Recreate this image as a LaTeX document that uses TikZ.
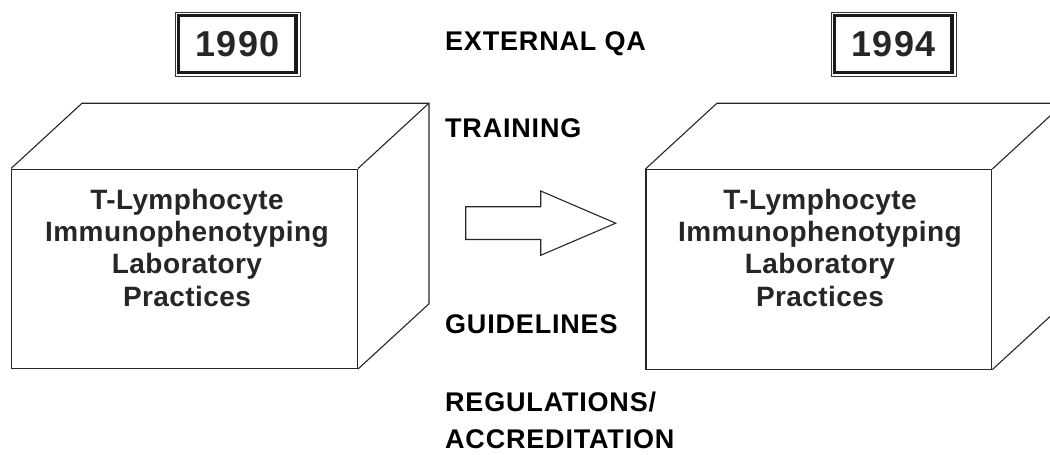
\documentclass[tikz,border=0pt]{standalone}
\usepackage{fontspec}
\setmainfont{Liberation Sans}
\newfontfamily\cubefont[LetterSpace=1.5]{Liberation Sans}
\newfontfamily\labfont[LetterSpace=3]{Liberation Sans}
\newfontfamily\yearfont[LetterSpace=4]{Liberation Sans}
\begin{document}
\begin{tikzpicture}[x=1pt,y=-1pt,line join=miter,
  edge/.style={draw=black!85,line width=1.1pt},
  face/.style={edge,fill=white,inner sep=0pt,minimum width=345.8pt,minimum height=199.5pt},
  cubetxt/.style={font=\cubefont\bfseries\fontsize{28}{32}\selectfont,text=black!85,anchor=base,inner sep=0pt},
  lab/.style={font=\labfont\bfseries\fontsize{27}{32}\selectfont,text=black,anchor=base west,inner sep=0pt},
  yearbox/.style={draw=black!80,line width=0.9pt,inner sep=0pt,minimum width=124.5pt,minimum height=64pt,
    font=\yearfont\bfseries\fontsize{36}{40}\selectfont,text=black!85},
  thickframe/.style={draw=black!90,line width=3.3pt},
  arrowshape/.style={draw=black!85,line width=1.1pt}]
\useasboundingbox (0,0) rectangle (1050,455);
\clip (0,0) rectangle (1050,455);

% year boxes
\node[yearbox] (y1) at (237.7,44) {1990};
\draw[thickframe] ([shift={(3.6,3.8)}]y1.north west) rectangle ([shift={(-4.3,-3.8)}]y1.south east);
\node[yearbox] (y2) at (893.7,44) {1994};
\draw[thickframe] ([shift={(3.6,3.8)}]y2.north west) rectangle ([shift={(-4.3,-3.8)}]y2.south east);

% left cube
\node[face] (f1) at (184.5,268.8) {};
\draw[edge] (f1.north west) -- ++(71,-65.3) -- ([shift={(71,-65.3)}]f1.north east)
  -- ([shift={(71,-65.3)}]f1.south east) -- (f1.south east);
\draw[edge] ([shift={(71,-65.3)}]f1.north east) -- (f1.north east);
\node[cubetxt] (a1) at (187,209.3) {T-Lymphocyte};
\node[cubetxt] (a2) at (187,241.7) {Immunophenotyping};
\node[cubetxt] (a3) at (187,273.2) {Laboratory};
\node[cubetxt] (a4) at (187,306.7) {Practices};

% right cube
\node[face] (f2) at (818.9,269.3) {};
\draw[edge] (f2.north west) -- ++(71.5,-65.8) -- ([shift={(71.5,-65.8)}]f2.north east)
  -- ([shift={(71.5,-65.8)}]f2.south east) -- (f2.south east);
\draw[edge] ([shift={(71.5,-65.8)}]f2.north east) -- (f2.north east);
\node[cubetxt] (b1) at (820,209.3) {T-Lymphocyte};
\node[cubetxt] (b2) at (820,241.7) {Immunophenotyping};
\node[cubetxt] (b3) at (820,273.2) {Laboratory};
\node[cubetxt] (b4) at (820,306.7) {Practices};

% block arrow
\coordinate (p1) at (465.7,206.7);
\coordinate (p2) at (540.7,206.7);
\coordinate (p3) at (540.7,191);
\coordinate (tip) at (615.7,223.2);
\coordinate (p5) at (540.7,255.3);
\coordinate (p6) at (540.7,239.5);
\coordinate (p7) at (465.7,239.5);
\draw[arrowshape] (p1) -- (p2) -- (p3) -- (tip) -- (p5) -- (p6) -- (p7) -- cycle;

% labels
\node[lab] (l1) at (445,50) {EXTERNAL QA};
\node[lab] (l2) at (445,137.7) {TRAINING};
\node[lab] (l3) at (445,333) {GUIDELINES};
\node[lab] (l4) at (445,411) {REGULATIONS/};
\node[lab] (l5) at (445,448) {ACCREDITATION};
\end{tikzpicture}
\end{document}
